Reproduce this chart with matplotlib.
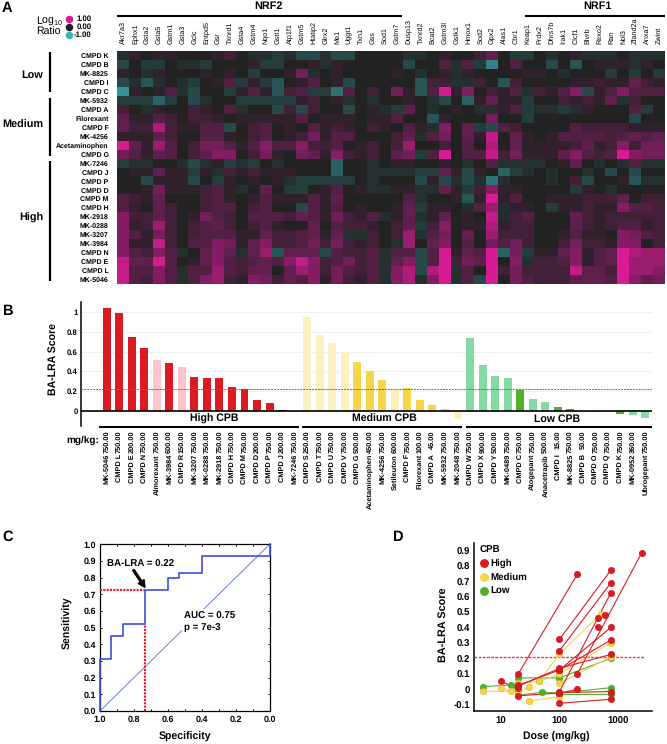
import numpy as np
import matplotlib
matplotlib.use('Agg')
import matplotlib.pyplot as plt
from matplotlib.colors import LinearSegmentedColormap
from matplotlib.lines import Line2D

plt.rcParams['font.family'] = ['Liberation Sans', 'DejaVu Sans']
plt.rcParams['mathtext.fontset'] = 'custom'
plt.rcParams['mathtext.rm'] = 'Liberation Sans'
plt.rcParams['mathtext.bf'] = 'Liberation Sans:bold'
plt.rcParams['text.hinting'] = 'no_hinting'

W, H = 667, 744

# panel A
genes = ['Akr7a3', 'Ephx1', 'Gsta2', 'Gsta5', 'Gstm1', 'Gsta3', 'Gclc', 'Entpd5', 'Gsr', 'Txnrd1',
         'Gsta4', 'Gstm4', 'Nqo1', 'Gstt1', 'Atp1f1', 'Gstm5', 'Htatip2', 'Glrx2', 'Me1', 'Uggt1',
         'Txn1', 'Gss', 'Sod1', 'Gstm7', 'Dusp13', 'Txnrd2', 'Bcat2', 'Gstm3l', 'Gstk1', 'Hmox1',
         'Sod2', 'Gpx2', 'Alas1', 'Cbr1', 'Keap1', 'Prdx2', 'Dhrs7b', 'Irak1', 'Clcf1', 'Blvrb',
         'Rexo2', 'Ran', 'Nol3', 'Zfand2a', 'Anxa7', 'Zwint']
compounds = ['CMPD K', 'CMPD B', 'MK-8825', 'CMPD I', 'CMPD C', 'MK-5932', 'CMPD A', 'Filorexant',
             'CMPD F', 'MK-4256', 'Acetaminophen', 'CMPD G', 'MK-7246', 'CMPD J', 'CMPD P', 'CMPD D',
             'CMPD M', 'CMPD H', 'MK-2918', 'MK-0288', 'MK-3207', 'MK-3984', 'CMPD N', 'CMPD E',
             'CMPD L', 'MK-5046']

# log10 ratio x 10, first 23 genes
heat_left = [
    [-1, 1, 0, 1, 1, 0, 0, 0, 1, 2, 0, -1, -1, -2, -1, -3, -3, -1, -3, -3, 0, 0, 0],
    [-3, 0, -2, -2, 0, -1, -1, -2, 0, 0, 0, 1, -2, -2, 0, 0, 1, -1, 1, 0, 0, 0, 0],
    [1, 0, -1, 1, 0, 0, 0, 1, 0, 1, 0, -2, 0, 0, 1, 5, -1, 0, 1, 0, 0, 0, 0],
    [-3, -1, -4, -1, 0, -1, -2, 0, 1, 3, -2, 1, -2, -4, 0, 1, 3, 0, 1, -3, 0, 0, 0],
    [-8, 1, 0, 1, 3, -1, -3, 0, 0, -2, 1, 3, 1, -4, 2, 3, -2, -2, -6, 3, 0, 2, 0],
    [-2, -2, -2, -5, -2, 0, -3, -1, 0, 0, -2, -2, -2, -2, -2, 1, 2, 0, 1, -1, 0, -1, 0],
    [2, 0, -1, 1, 0, 0, 2, 1, 0, 3, -1, 0, 0, -3, 2, -3, 2, 0, 0, -3, 0, 1, -1],
    [4, 1, 1, 3, 2, 0, 2, 2, 1, 0, 1, 1, 1, 1, 1, 3, 0, 1, 1, 1, 0, 1, 1],
    [4, 2, 2, 8, 2, 1, 1, 3, 3, -3, 0, 2, 3, 0, 1, 0, 3, 1, 2, 1, 0, 2, 1],
    [1, 1, 1, 4, 2, 0, 0, 3, 3, 1, 0, 2, 3, 0, 1, 2, 5, 1, 3, 3, 0, 0, 0],
    [10, 4, 1, 7, 3, 0, 2, 5, 5, 3, 1, 3, 6, 3, 3, 6, 2, 2, 3, 0, 1, 2, 0],
    [5, 3, 1, 4, 3, 0, 2, 4, 6, 6, 0, 2, 5, 1, 0, 5, 4, 1, 6, 2, 1, 2, 0],
    [-2, -1, -1, 0, 0, -1, -3, -1, 1, -2, -1, -2, 0, -1, 0, 0, 0, 0, -5, 0, 0, -1, 0],
    [0, 1, 1, 4, 1, 1, -2, 1, -1, 2, 1, 2, 1, 1, 1, 0, 0, 0, -5, 0, 0, -1, -1],
    [0, 0, -3, 1, 1, 1, -3, 0, -2, 1, 0, 1, 0, 1, -1, -2, -2, -2, -2, -2, 0, -1, 0],
    [0, 0, 1, 5, 1, 1, 1, 2, 3, 1, -1, 0, 4, 0, -2, -2, 0, 1, 3, 0, 1, -1, -1],
    [3, 2, 1, 4, 0, 0, 0, 2, 3, 1, 0, 1, 3, 1, 1, 1, 3, 1, 4, 0, 0, 0, 0],
    [3, 1, 0, 4, 2, 0, 0, 2, 3, 3, 0, 2, 3, 0, 0, -3, 3, 1, 3, 0, 1, 0, 0],
    [6, 2, 2, 4, 2, 0, 1, 5, 3, 2, 0, 3, 3, 3, 2, 4, 3, 1, 5, 2, 1, 3, -1],
    [6, 1, 2, 7, 2, 0, 2, 3, 4, 2, 0, 2, 3, 1, 0, 0, 4, 0, 3, 2, 2, 1, 0],
    [6, 3, 1, 5, 2, 0, 2, 3, 3, 3, 1, 1, 4, 2, 2, 3, 4, 1, 4, -1, -1, 2, 0],
    [6, 1, 1, 9, 2, 0, 3, 3, 6, 5, 1, 4, 6, 2, 2, 3, 5, 2, 5, 2, 1, 2, 0],
    [6, 3, 2, 6, 3, -1, 0, 4, 6, 4, -1, 4, 7, -4, 4, 4, 4, -3, 3, 2, 2, 3, -1],
    [9, 4, 4, 10, 3, 0, 1, 4, 6, 3, 2, 3, 4, 3, 6, 9, 6, 2, 3, 5, 2, 3, -1],
    [9, 3, 3, 6, 3, -1, 3, 3, 7, 3, 2, 4, 4, 0, 4, 7, 6, 2, 5, 3, 2, 3, -1],
    [9, 3, 2, 6, 3, -1, 3, 6, 7, 2, 1, 6, 5, 2, 4, 3, 6, 1, 5, 2, 1, 3, -1],
]
# log10 ratio x 10, last 23 genes
heat_right = [
    [0, -1, -1, 0, 1, 0, 0, 2, 4, 0, -2, -2, 0, -1, 0, 1, -1, -1, -1, 0, -1, -1, -1],
    [0, -3, 0, 0, 3, -1, 3, -2, -7, 0, 3, 0, 0, -3, 0, -4, 0, 1, 1, 1, -1, 1, 0],
    [1, 0, -1, 0, 1, -1, 1, 0, 0, 0, 0, 1, 1, 0, -1, 0, 0, 0, -2, 0, -2, 0, -2],
    [0, 0, -4, 2, 2, -1, -1, 2, 0, -4, 2, 0, 0, 0, 0, 1, 1, 2, 1, 1, 4, 2, 1],
    [5, 1, -4, 3, 10, 1, 6, 0, 2, 1, 3, -1, 2, 1, 3, 6, -3, 1, 3, 6, 3, 3, 3],
    [0, 1, 0, -1, -3, 0, -5, 1, 4, 1, 1, -2, 0, 0, 2, 1, 2, 1, 4, -1, 2, 0, 0],
    [-2, 4, 0, -1, 0, 1, 0, -1, -1, 1, 3, -2, -1, -1, -2, -1, 1, 0, 0, 0, 3, -2, 0],
    [3, 0, 0, -4, 1, 0, 0, 0, 5, 0, 0, -2, 0, 0, 0, 0, 0, 0, 0, 0, -3, 0, 0],
    [0, 3, 1, -1, 6, 0, 4, -2, -3, 3, 2, 0, 0, 0, 0, 3, 2, 2, 2, 2, 1, 1, 1],
    [2, 4, -1, 3, 5, 0, 4, 1, 9, 0, 4, 1, 0, 1, 3, 3, 3, 3, 2, 3, 4, 3, 4],
    [2, 7, 0, 0, 2, 0, 3, 0, 8, 0, 4, 1, 1, 1, 1, 2, 4, 1, 2, 6, 2, 5, 5],
    [4, 5, -2, 3, 10, 0, 3, 3, 9, 2, 5, 1, 1, 1, 4, 6, 3, 2, 3, 10, 6, 5, 5],
    [1, 1, 0, 0, 1, 0, -1, 0, 3, -1, -1, -1, -1, 0, 1, 4, 0, -1, 0, -1, 3, -1, -1],
    [-1, -1, -2, -2, 4, 1, -3, 1, 0, -5, -2, -1, 0, -1, 0, 0, -1, 0, -3, 0, -3, 0, 0],
    [0, 0, -3, 1, -3, -1, -3, -1, -6, -1, 0, 0, 0, -1, 0, 2, -3, 0, 0, 1, -4, -1, -1],
    [1, 1, -1, -1, 4, 1, -2, 2, 6, 1, 1, 0, 0, 0, 0, -2, 1, 0, -1, 0, 0, 0, 0],
    [0, 3, -1, 0, 0, 1, -4, 1, 10, 1, 3, 0, 0, 1, 1, 1, 2, 2, 2, 4, 0, 2, 2],
    [1, 4, -2, 1, 1, 0, -1, 3, 7, -1, 1, 1, 0, -2, 1, 1, 2, 1, 1, 6, 3, 3, 2],
    [1, 4, -1, 1, 4, 0, 1, 0, 9, -1, 2, 3, 0, 0, 0, 4, 2, 1, 2, 2, 2, 2, 2],
    [2, 4, -2, 2, 6, 0, 1, 1, 8, 1, 2, 2, 0, 0, 0, 4, 2, 1, 2, 3, 3, 1, 2],
    [2, 7, -1, 3, 5, 0, 4, 0, 7, 2, 2, 2, 0, 0, 1, 3, 1, 1, 0, 6, 5, 3, 2],
    [-1, 7, 0, 4, 6, 0, 3, 0, 5, 3, 5, 2, 0, 0, 2, 5, 2, 2, 1, 6, 6, 0, 2],
    [3, 3, -3, 3, 10, 1, 4, 3, 10, -5, 5, -2, 1, 1, 4, 6, 1, 3, 4, 10, 8, 7, 7],
    [4, 6, -3, 3, 10, 2, 5, 4, 10, 0, 6, -1, 2, 2, 3, 6, 1, 3, 4, 10, 7, 7, 7],
    [6, 8, -3, 8, 10, -1, 3, 0, 10, 2, 5, 2, 2, 2, 2, 9, 4, 4, 2, 10, 7, 7, 6],
    [6, 8, -1, 6, 10, -1, 3, -3, 10, 0, 5, 3, 2, 2, 2, 4, 4, 4, 3, 10, 6, 4, 5],
]

# panel B
bar_names = ['MK-5046', 'CMPD L', 'CMPD E', 'CMPD N', 'Almorexant', 'MK-3984', 'CMPD R', 'MK-3207',
             'MK-0288', 'MK-2918', 'CMPD H', 'CMPD M', 'CMPD D', 'CMPD P', 'CMPD J', 'MK-7246',
             'CMPD S', 'CMPD T', 'CMPD U', 'CMPD V', 'CMPD G', 'Acetaminophen', 'MK-4256', 'Setileuton',
             'CMPD F', 'Filorexant', 'CMPD A', 'MK-5932', 'MK-2048',
             'CMPD W', 'CMPD X', 'CMPD Y', 'MK-0489', 'CMPD C', 'Atogepant', 'Anacetrapib', 'CMPD I',
             'MK-8825', 'CMPD B', 'CMPD O', 'CMPD Q', 'CMPD K', 'MK-0952', 'Ubrogepant']
bar_doses = [750, 750, 200, 750, 750, 600, 150, 750, 750, 750, 750, 750, 200, 750, 200, 750,
             250, 750, 750, 750, 500, 450, 750, 600, 750, 100, 45, 750, 750,
             750, 900, 500, 750, 750, 750, 500, 15, 750, 50, 750, 750, 750, 360, 750]
bar_scores = [1.04, 0.993, 0.75, 0.634, 0.515, 0.481, 0.444, 0.342, 0.329, 0.329, 0.237, 0.224, 0.105,
              0.078, 0.01, 0.0,
              0.956, 0.766, 0.69, 0.597, 0.495, 0.407, 0.312, 0.224, 0.227, 0.105, 0.058, 0.017, -0.085,
              0.742, 0.468, 0.349, 0.329, 0.207, 0.119, 0.085, 0.037, 0.017, 0.002, -0.017, -0.017,
              -0.03, -0.04, -0.075]
bar_groups = ['High'] * 16 + ['Medium'] * 13 + ['Low'] * 15
bar_pale = [0, 0, 0, 0, 1, 0, 1, 0, 0, 0, 0, 0, 0, 0, 0, 0,
            1, 1, 1, 1, 0, 0, 0, 1, 0, 0, 0, 0, 1,
            1, 1, 1, 1, 0, 1, 1, 0, 0, 0, 1, 1, 0, 1, 1]
score_ticks = [0, 0.2, 0.4, 0.6, 0.8, 1]
score_labels = ['0', '0.2', '0.4', '0.6', '0.8', '1']

# panel C
roc_spec = [1.0, 1.0, 0.933, 0.933, 0.867, 0.867, 0.735, 0.735, 0.6, 0.6, 0.533, 0.533, 0.4, 0.4, 0.0, 0.0]
roc_sens = [0.0, 0.31, 0.31, 0.45, 0.45, 0.52, 0.52, 0.725, 0.725, 0.795, 0.795, 0.83, 0.83, 0.93, 0.93, 1.0]

# panel D
high_doses = [[20, 200], [100, 750], [100, 750], [100, 750], [200, 2500], [100, 750], [20, 100, 750],
              [20, 100, 750], [10, 20], [20, 100, 200], [100, 750], [100, 750], [450], [450], [600]]
high_scores = [[0.105, 0.748], [0.328, 0.776], [0.254, 0.694], [-0.01, 0.63], [0.103, 0.888], [0.13, 0.405],
               [0.03, 0.13, 0.323], [0.025, 0.14, 0.23], [0.056, 0.01], [-0.037, -0.02, 0.004],
               [-0.086, -0.06], [-0.017, -0.01], [0.463], [0.41], [0.483]]
medium_doses = [[45, 100, 500], [30, 100], [5, 20], [20, 45, 100, 750], [100, 750], [20, 30], [10, 15]]
medium_scores = [[0.055, 0.233, 0.491], [-0.073, -0.043], [-0.007, -0.01], [0.045, 0.055, 0.103, 0.306],
                 [0.043, 0.215], [-0.015, 0.017], [0.015, -0.007]]
low_doses = [[5, 15, 20], [20, 100, 750], [20, 50, 100, 750], [100, 750]]
low_scores = [[0.022, 0.032, -0.012], [0.078, 0.078, 0.205], [-0.035, -0.015, -0.02, 0.015], [-0.03, -0.028]]


def px_axes(left, top, right, bottom):
    return fig.add_axes([left / W, 1 - bottom / H, (right - left) / W, (bottom - top) / H])


def ftext(x, y, s, **kw):
    kw.setdefault('ha', 'left')
    kw.setdefault('va', 'center')
    kw.setdefault('color', 'black')
    fig.text(x / W, 1 - y / H, s, **kw)


def fline(x0, y0, x1, y1, lw):
    fig.add_artist(Line2D([x0 / W, x1 / W], [1 - y0 / H, 1 - y1 / H], color='black', lw=lw,
                          solid_capstyle='butt'))


fig = plt.figure(figsize=(W / 100, H / 100), dpi=100)

# ---- A
heat = np.hstack([np.array(heat_left), np.array(heat_right)]) / 10.0
cmap = LinearSegmentedColormap.from_list('heat', [(0, '#3CB4B4'), (0.25, '#2A6262'), (0.5, '#222222'),
                                                  (0.75, '#701E58'), (1, '#D81B94')])
ax = px_axes(117, 51, 665, 284)
ax.pcolormesh(heat, cmap=cmap, vmin=-1, vmax=1)
ax.set_ylim(len(compounds), 0)
ax.set_xticks(np.arange(len(genes)) + 0.5)
ax.set_xticklabels(genes, rotation=90, fontsize=5.2)
ax.set_yticks(np.arange(len(compounds)) + 0.5)
ax.set_yticklabels(compounds, fontsize=5, fontweight='bold')
ax.xaxis.tick_top()
ax.tick_params(length=0, pad=5, axis='x')
ax.tick_params(length=0, pad=6, axis='y')
for s in ax.spines.values():
    s.set_visible(False)

ftext(2, 8, 'A', fontsize=10.5, fontweight='bold')
ftext(268, 6, 'NRF2', fontsize=7.8, fontweight='bold', ha='center')
ftext(597, 6, 'NRF1', fontsize=7.8, fontweight='bold', ha='center')
fline(117, 15.7, 402, 15.7, 1.5)
fline(525, 15.7, 665, 15.7, 1.5)
ftext(36, 21, r'Log$_{10}$', fontsize=7.6)
ftext(36, 32, 'Ratio', fontsize=7.6)
for yy, c, s in [(18.7, '#D81B94', '1.00'), (27, '#222222', '0.00'), (35.3, '#3CB4B4', '-1.00')]:
    fig.add_artist(Line2D([69 / W], [1 - yy / H], marker='o', ms=4.4, color=c, lw=0))
    ftext(91.7, yy, s, fontsize=5.6, fontweight='bold', ha='right')
for y0, y1, yc, s in [(52, 92, 74.7, 'Low'), (98, 155.7, 125, 'Medium'), (160.7, 281, 218, 'High')]:
    fline(50.3, y0, 50.3, y1, 1.6)
    ftext(43, yc, s, fontsize=7.8, ha='right', fontweight='bold')

# ---- B
bar_cols = {'High': ('#DC1A22', '#FCC5C9'), 'Medium': ('#F6D54A', '#FCF0C0'), 'Low': ('#4FB029', '#83DBA3')}
colors = [bar_cols[g][p] for g, p in zip(bar_groups, bar_pale)]
pos = np.arange(len(bar_scores))
ax = px_axes(81, 302, 651.7, 425.7)
ax.bar(pos, bar_scores, width=0.63, color=colors, zorder=2)
ax.set_xlim(-2.05, 43.5)
ax.set_ylim(-0.152, 1.105)
ax.set_yticks(score_ticks)
ax.set_yticklabels(score_labels, fontsize=5.6, fontweight='bold')
ax.set_xticks([])
ax.tick_params(length=0, pad=2.5)
ax.grid(True, axis='y', color='#EEEEEE', lw=0.6, zorder=0)
ax.axhline(0, color='black', lw=1.2, zorder=3)
ax.axhline(0.22, color='#F03040', ls=(0, (2, 1)), lw=0.7, zorder=4)
for s in ['top', 'right', 'bottom']:
    ax.spines[s].set_visible(False)
ax.spines['left'].set_linewidth(1.1)
for i in pos:
    ax.text(i, -0.196, '%.2f' % bar_doses[i], rotation=90, ha='center', va='top', fontsize=5.3,
            fontweight='bold', clip_on=False)
    ax.text(i, -0.44, bar_names[i], rotation=90, ha='center', va='top', fontsize=5.3,
            fontweight='bold', clip_on=False)

ftext(2, 311, 'B', fontsize=10.5, fontweight='bold')
ftext(53, 359, 'BA-LRA Score', fontsize=7.6, fontweight='bold', rotation=90, ha='center')
ftext(99, 440, 'mg/kg:', fontsize=7.2, fontweight='bold', ha='right')
ftext(214, 419, 'High CPB', fontsize=7.6, fontweight='bold', ha='center')
ftext(384, 419, 'Medium CPB', fontsize=7.6, fontweight='bold', ha='center')
ftext(557, 419, 'Low CPB', fontsize=7.6, fontweight='bold', ha='center')
fline(99.3, 426.5, 299, 426.5, 1.5)
fline(302, 426.5, 461.7, 426.5, 1.5)
fline(465.7, 426.5, 652, 426.5, 1.5)

# ---- C
ax = px_axes(100, 544.3, 269.7, 711)
ax.plot([1, 0], [0, 1], color='#5566EE', lw=0.6)
ax.plot([1.0, 0.735], [0.725, 0.725], color='#F01020', ls=(0, (1, 0.6)), lw=1.5, zorder=3)
ax.plot([0.735, 0.735], [0.0, 0.52], color='#F01020', ls=(0, (1, 0.6)), lw=1.5, zorder=3)
ax.plot(roc_spec, roc_sens, color='#3B4FE0', lw=1.2, clip_on=False, zorder=4)
ax.set_xlim(1, 0)
ax.set_ylim(0, 1)
ax.set_xticks(np.arange(0, 1.01, 0.2))
ax.set_xticks(np.arange(0, 1.01, 0.1), minor=True)
ax.set_yticks(np.arange(0, 1.01, 0.1))
ax.set_xticklabels(['%.1f' % v for v in np.arange(0, 1.01, 0.2)], fontsize=6.5, fontweight='bold')
ax.set_yticklabels(['%.1f' % v for v in np.arange(0, 1.01, 0.1)], fontsize=6.5, fontweight='bold')
ax.tick_params(which='both', direction='in', top=True, right=True, length=1.5, width=0.7, pad=3)
for s in ax.spines.values():
    s.set_linewidth(0.9)
ax.text(0.957, 0.878, 'BA-LRA = 0.22', fontsize=7, fontweight='bold', va='center', zorder=5)
ax.annotate('', xy=(0.735, 0.742), xytext=(0.803, 0.846),
            arrowprops=dict(facecolor='black', edgecolor='black', width=1.3, headwidth=5,
                            headlength=5, shrink=0), zorder=5)
ax.text(0.505, 0.57, 'AUC = 0.75', fontsize=7, fontweight='bold', va='center', zorder=2,
        bbox=dict(facecolor='white', edgecolor='none', pad=1.5))
ax.text(0.505, 0.494, 'p = 7e-3', fontsize=7, fontweight='bold', va='center', zorder=2,
        bbox=dict(facecolor='white', edgecolor='none', pad=1.5))

ftext(2, 537, 'C', fontsize=10.5, fontweight='bold')
ftext(67.7, 623, 'Sensitivity', fontsize=7.6, fontweight='bold', rotation=90, ha='center')
ftext(185, 736.7, 'Specificity', fontsize=7.6, fontweight='bold', ha='center')

# ---- D
ax = px_axes(474.3, 542.7, 652.3, 711)
ax.set_xscale('log')
ax.set_xlim(3.56, 3784)
ax.set_ylim(-0.136, 0.953)
ax.axhline(0.215, xmax=0.96, color='#F03848', ls=(0, (2, 1)), lw=1.0)
for dd, ss, c, edge in [(low_doses, low_scores, '#4FB029', '#3F9A20'),
                        (medium_doses, medium_scores, '#F6D54A', '#E0B030'),
                        (high_doses, high_scores, '#DC1A22', '#C01018')]:
    for x, y in zip(dd, ss):
        ax.plot(x, y, '-', color=c, lw=0.8, zorder=2)
    for x, y in zip(dd, ss):
        ax.plot(x, y, 'o', color=c, ms=4.6, mec=edge, mew=0.4, zorder=3, clip_on=False, ls='')
ax.set_xticks([10, 100, 1000])
ax.set_xticklabels(['10', '100', '1000'], fontsize=6.9, fontweight='bold')
ax.minorticks_off()
ax.set_yticks(np.arange(-0.1, 0.91, 0.1))
ax.set_yticklabels(['-0.1', '0', '0.1', '0.2', '0.3', '0.4', '0.5', '0.6', '0.7', '0.8', '0.9'],
                   fontsize=6.9, fontweight='bold')
ax.tick_params(length=0, pad=3)
ax.tick_params(axis='x', pad=4)
for s in ['top', 'right']:
    ax.spines[s].set_visible(False)
ax.spines['left'].set_linewidth(1.1)
ax.spines['bottom'].set_linewidth(1.1)

ftext(392, 537, 'D', fontsize=10.5, fontweight='bold')
ftext(443, 625, 'BA-LRA Score', fontsize=7.8, fontweight='bold', rotation=90, ha='center')
ftext(556.7, 736.7, 'Dose (mg/kg)', fontsize=7.6, fontweight='bold', ha='center')
ftext(480, 550, 'CPB', fontsize=7, fontweight='bold')
for yy, c, s in [(563.3, '#DC1A22', 'High'), (577.3, '#F6D54A', 'Medium'), (590.7, '#4FB029', 'Low')]:
    fig.add_artist(Line2D([484 / W], [1 - yy / H], marker='o', ms=5.4, color=c, lw=0))
    ftext(490, yy, s, fontsize=7, fontweight='bold')

fig.savefig('out.png', dpi=100)
